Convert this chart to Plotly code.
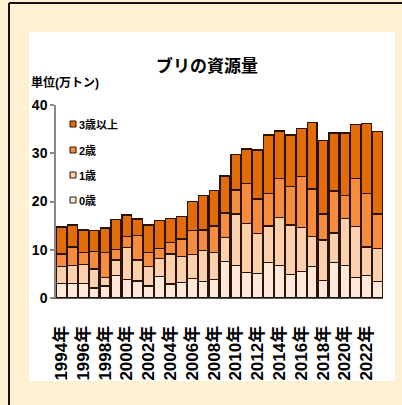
import plotly.graph_objects as go

years = list(range(1994, 2024))
age0 = [3.0, 3.0, 3.0, 2.1, 2.5, 4.6, 3.9, 3.5, 2.5, 4.4, 2.9, 3.2, 4.1, 3.4, 3.8,
        7.6, 6.8, 5.3, 5.1, 7.4, 6.8, 4.8, 5.5, 6.6, 3.6, 7.3, 6.8, 4.2, 4.6, 3.4]
age1 = [3.6, 3.8, 4.0, 3.9, 1.7, 3.3, 6.5, 4.4, 4.0, 3.8, 6.2, 5.4, 4.9, 6.4, 5.6,
        5.0, 10.6, 10.2, 8.2, 7.5, 9.9, 10.3, 9.1, 6.1, 8.4, 6.2, 9.7, 10.6, 6.0, 6.9]
age2 = [2.5, 3.8, 2.4, 3.6, 5.3, 2.2, 2.3, 5.0, 3.0, 2.1, 2.4, 3.6, 5.0, 4.3, 5.5,
        5.0, 5.0, 8.3, 7.2, 6.8, 8.1, 8.0, 10.6, 9.9, 5.4, 8.7, 4.7, 10.0, 11.0, 7.1]
age3 = [5.6, 4.5, 4.7, 4.4, 5.0, 6.2, 4.5, 3.5, 5.6, 5.7, 5.0, 4.7, 6.0, 7.1, 7.4,
        7.7, 7.4, 7.1, 10.2, 12.1, 9.8, 10.7, 9.9, 13.8, 15.2, 12.0, 13.0, 11.1, 14.6, 17.1]

series_names = ["0歳", "1歳", "2歳", "3歳以上"]
series_colors = ["#FDE9D9", "#FBD0AC", "#F68C3E", "#E36C0A"]
tick_years = list(range(1994, 2023, 2))
tick_text = [f"{y}年" for y in tick_years]
y_ticks = [0, 10, 20, 30, 40]

title_text = "ブリの資源量"
unit_text = "単位(万トン)"

W, H = 402, 405
ML, MR, MT, MB = 56, 19, 105, 107
PW = W - ML - MR
PH = H - MT - MB


def px(xpix):
    return (xpix - ML) / PW


def py(ypix):
    return (H - MB - ypix) / PH


JP = "Liberation Sans, Noto Sans CJK JP, sans-serif"
BORDER = "#2a1205"
CREAM = "#FEF0D3"

fig = go.Figure()
for name, vals, col in zip(series_names, [age0, age1, age2, age3], series_colors):
    fig.add_trace(go.Bar(
        x=years, y=vals, name=name, showlegend=False,
        marker=dict(color=col, line=dict(color=BORDER, width=1.3)),
    ))

shapes = []
# white panel
shapes.append(dict(type="rect", xref="paper", yref="paper",
                   x0=px(29), x1=px(395), y0=py(381), y1=py(32),
                   line=dict(width=0), fillcolor="white", layer="below"))
# cream strip covering label overflow at the bottom
shapes.append(dict(type="rect", xref="paper", yref="paper",
                   x0=px(10), x1=px(402), y0=py(405), y1=py(381),
                   line=dict(width=0), fillcolor=CREAM, layer="above"))
# frame border (left/top)
shapes.append(dict(type="line", xref="paper", yref="paper",
                   x0=px(9), x1=px(402), y0=py(3), y1=py(3),
                   line=dict(color="#111111", width=2), layer="above"))
shapes.append(dict(type="line", xref="paper", yref="paper",
                   x0=px(9), x1=px(9), y0=py(3), y1=py(405),
                   line=dict(color="#111111", width=2), layer="above"))

annotations = []
annotations.append(dict(text=title_text, xref="paper", yref="paper", x=px(207), y=py(66),
                        showarrow=False, xanchor="center", yanchor="middle",
                        font=dict(family=JP, size=17, color="black", weight="bold")))
annotations.append(dict(text=unit_text, xref="paper", yref="paper", x=px(29), y=py(82),
                        showarrow=False, xanchor="left", yanchor="middle",
                        font=dict(family=JP, size=12, color="black", weight="bold")))

# manual legend (top: 3歳以上)
leg_y = [200, 175, 150, 124]
for name, col, yy in zip(series_names, series_colors, leg_y):
    shapes.append(dict(type="rect", xref="paper", yref="paper",
                       x0=px(70), x1=px(76), y0=py(yy + 3), y1=py(yy - 3),
                       line=dict(color=BORDER, width=1), fillcolor=col))
    annotations.append(dict(text=name, xref="paper", yref="paper", x=px(77), y=py(yy),
                            showarrow=False, xanchor="left", yanchor="middle",
                            font=dict(family=JP, size=11, color="black", weight="bold")))

fig.update_layout(
    width=W, height=H,
    margin=dict(l=ML, r=MR, t=MT, b=MB, pad=0),
    paper_bgcolor=CREAM,
    plot_bgcolor="rgba(0,0,0,0)",
    barmode="stack",
    bargap=0.1,
    showlegend=False,
    shapes=shapes,
    annotations=annotations,
    xaxis=dict(range=[1993.5, 2023.5], tickmode="array", tickvals=tick_years, ticktext=tick_text,
               tickangle=-90, showgrid=False, zeroline=False, showline=True,
               linecolor="#555555", linewidth=1, ticks="", ticklabelstandoff=20,
               tickfont=dict(family=JP, size=17, color="black", weight="bold")),
    yaxis=dict(range=[0, 40], tickmode="array", tickvals=y_ticks, showgrid=False, zeroline=False,
               showline=True, linecolor="#8a8a8a", linewidth=1.5, ticks="outside", ticklen=4,
               tickcolor="#8a8a8a", tickwidth=1.5,
               tickfont=dict(family=JP, size=14, color="black", weight="bold")),
)

fig.write_html("out.html")
